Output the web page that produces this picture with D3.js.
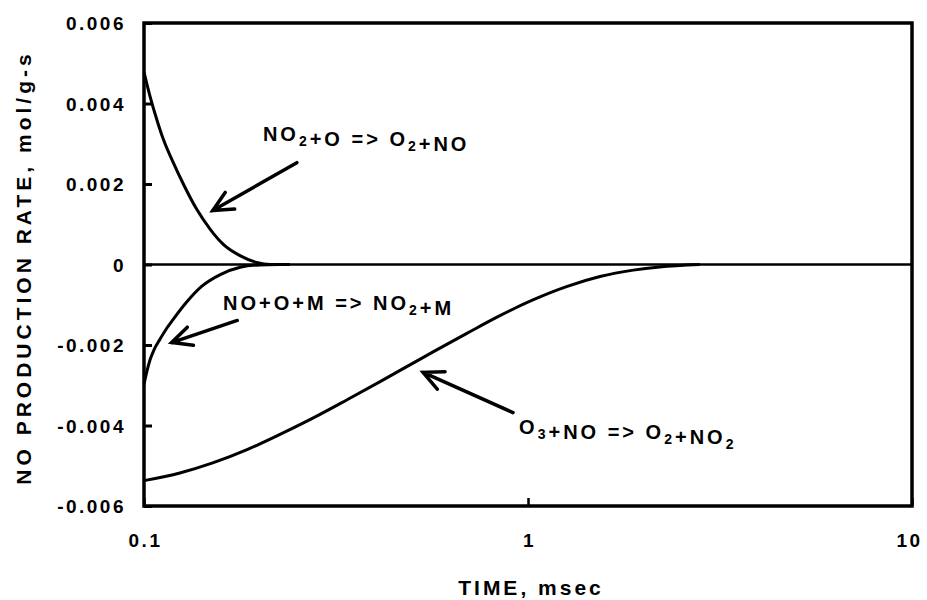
<!DOCTYPE html>
<html>
<head>
<meta charset="utf-8">
<script src="https://cdn.jsdelivr.net/npm/d3@7"></script>
<style>
  html, body { margin: 0; padding: 0; background: #fff; }
  svg { display: block; font-family: "Liberation Sans", Arial, sans-serif; font-weight: bold; }
</style>
</head>
<body>
<svg id="chart" width="927" height="600"></svg>
<script>
// Time axis (msec), log scale
const xTicks = [0.1, 1, 10];
const xTickLabels = ["0.1", "1", "10"];
// NO production rate axis (mol/g-s)
const yTicks = [-0.006, -0.004, -0.002, 0, 0.002, 0.004, 0.006];
const yTickLabels = ["-0.006", "-0.004", "-0.002", "0", "0.002", "0.004", "0.006"];

// NO2 + O => O2 + NO
const r1Time = [0.1, 0.1036, 0.1079, 0.1123, 0.1192, 0.1266, 0.1372, 0.1486, 0.1609, 0.1778, 0.1965, 0.213, 0.24];
const r1Rate = [0.00478, 0.00419, 0.00361, 0.00311, 0.00253, 0.00200, 0.00137, 0.00088, 0.00050, 0.00022, 0.00005, 0.0, 0.0];

// NO + O + M => NO2 + M
const r2Time = [0.1, 0.1016, 0.1036, 0.1064, 0.110, 0.1145, 0.119, 0.129, 0.1415, 0.158, 0.178, 0.2, 0.226];
const r2Rate = [-0.00298, -0.00268, -0.00238, -0.00210, -0.00186, -0.00159, -0.00137, -0.00094, -0.00054, -0.00025, -0.00007, -0.00001, 0.0];

// O3 + NO => O2 + NO2
const r3Time = [0.1, 0.124, 0.151, 0.1855, 0.226, 0.276, 0.338, 0.412, 0.502, 0.566, 0.693, 0.845, 1.03, 1.26, 1.54, 1.88, 2.2, 2.8];
const r3Rate = [-0.00537, -0.00518, -0.00493, -0.00460, -0.00422, -0.00381, -0.00336, -0.00291, -0.00245, -0.00217, -0.00171, -0.00127, -0.00088, -0.00055, -0.00030, -0.00014, -0.00006, 0.0];

// Reaction labels: [text, kind] runs
const reactionLabels = [
  [["NO", ""], ["2", "sub"], ["+O => O", ""], ["2", "sub"], ["+NO", ""]],
  [["NO+O+M => NO", ""], ["2", "sub"], ["+M", ""]],
  [["O", ""], ["3", "sub"], ["+NO => O", ""], ["2", "sub"], ["+NO", ""], ["2", "sub"]]
];
// Label anchor (time, rate) and arrow tail/tip (time, rate)
const labelAt = [[0.204, 0.00308], [0.1606, -0.00114], [0.948, -0.00422]];
const arrowTail = [[0.250, 0.00253], [0.175, -0.00139], [0.914, -0.00368]];
const arrowTip = [[0.151, 0.00134], [0.118, -0.00194], [0.533, -0.00268]];

const svg = d3.select("#chart");
const plotL = 144, plotR = 912, plotT = 23, plotB = 506;

const x = d3.scaleLog().domain([0.1, 10]).range([plotL, plotR]);
const y = d3.scaleLinear().domain([-0.006, 0.006]).range([plotB, plotT]);

// Y axis: ticks point inward
const yAxis = d3.axisLeft(y).tickValues(yTicks)
  .tickFormat((d, i) => yTickLabels[i]).tickSize(-8).tickPadding(18);
const gy = svg.append("g").attr("transform", `translate(${plotL},0)`).call(yAxis);
gy.select(".domain").remove();
gy.selectAll(".tick line").attr("stroke", "#000").attr("stroke-width", 3);
gy.selectAll(".tick text").attr("fill", "#000").style("font-size", "19px")
  .style("letter-spacing", "2.5px").attr("dy", "0.35em");

// X axis
const xAxis = d3.axisBottom(x).tickValues(xTicks)
  .tickFormat((d, i) => xTickLabels[i]).tickSize(-8).tickPadding(28);
const gx = svg.append("g").attr("transform", `translate(0,${plotB})`).call(xAxis);
gx.select(".domain").remove();
gx.selectAll(".tick line").attr("stroke", "#000").attr("stroke-width", 2.5);
gx.selectAll(".tick text").attr("fill", "#000").style("font-size", "19px")
  .style("letter-spacing", "2.5px").attr("dx", "1px");
gx.selectAll(".tick").filter((d, i) => i === xTicks.length - 1)
  .select("text").attr("dx", "-3px");

// Zero line
svg.append("line")
  .attr("x1", x(0.1)).attr("x2", x(10))
  .attr("y1", y(0)).attr("y2", y(0))
  .attr("stroke", "#000").attr("stroke-width", 2.5);

// Rate curves
const line = d3.line().x(d => x(d[0])).y(d => y(d[1])).curve(d3.curveMonotoneX);
[[r1Time, r1Rate], [r2Time, r2Rate], [r3Time, r3Rate]].forEach(([t, r]) => {
  svg.append("path")
    .datum(t.map((v, i) => [v, r[i]]))
    .attr("d", line)
    .attr("fill", "none").attr("stroke", "#000").attr("stroke-width", 3);
});

// Plot frame
svg.append("rect")
  .attr("x", plotL).attr("y", plotT)
  .attr("width", plotR - plotL).attr("height", plotB - plotT)
  .attr("fill", "none").attr("stroke", "#000").attr("stroke-width", 3.5);

// Reaction labels
reactionLabels.forEach((parts, i) => {
  const t = svg.append("text")
    .attr("x", x(labelAt[i][0])).attr("y", y(labelAt[i][1]))
    .attr("xml:space", "preserve")
    .style("white-space", "pre")
    .style("font-size", "20px").style("letter-spacing", "3px");
  parts.forEach(([s, kind]) => {
    if (kind === "sub") {
      t.append("tspan").attr("dy", 5).style("font-size", "14px").text(s);
      t.append("tspan").attr("dy", -5).text("");
    } else {
      t.append("tspan").text(s);
    }
  });
});

// Arrows with open heads
arrowTail.forEach((tail, i) => {
  const x0 = x(tail[0]), y0 = y(tail[1]);
  const x1 = x(arrowTip[i][0]), y1 = y(arrowTip[i][1]);
  const ang = Math.atan2(y1 - y0, x1 - x0);
  const len = 22, spread = 0.45;
  const w1 = [x1 - len * Math.cos(ang - spread), y1 - len * Math.sin(ang - spread)];
  const w2 = [x1 - len * Math.cos(ang + spread), y1 - len * Math.sin(ang + spread)];
  svg.append("path")
    .attr("d", `M${x0},${y0}L${x1},${y1}M${w1[0]},${w1[1]}L${x1},${y1}L${w2[0]},${w2[1]}`)
    .attr("fill", "none").attr("stroke", "#000").attr("stroke-width", 3.5)
    .attr("stroke-linecap", "round").attr("stroke-linejoin", "miter");
});

// Axis titles
svg.append("text")
  .attr("x", (plotL + plotR) / 2 + 3).attr("y", 595)
  .attr("text-anchor", "middle")
  .style("font-size", "21px").style("letter-spacing", "3px")
  .text("TIME, msec");

svg.append("text")
  .attr("transform", `translate(31,${(plotT + plotB) / 2 + 3}) rotate(-90)`)
  .attr("text-anchor", "middle")
  .style("font-size", "21px").style("letter-spacing", "4px")
  .text("NO PRODUCTION RATE, mol/g-s");
</script>
</body>
</html>
